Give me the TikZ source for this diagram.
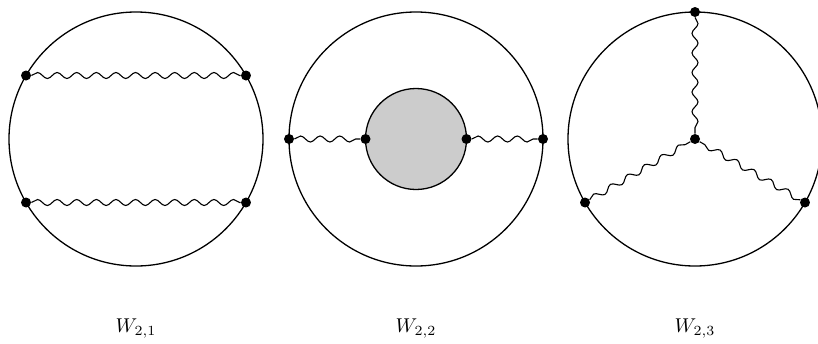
\documentclass[tikz,border=0pt]{standalone}
\usetikzlibrary{decorations.pathmorphing}

\begin{document}
\begin{tikzpicture}[
    x=0.5pt, y=-0.5pt,
    loop_circle/.style={circle, draw=black, line width=0.65pt, inner sep=0pt, outer sep=0pt, minimum size=127pt},
    blob/.style={circle, draw=black, fill=black!20, line width=0.65pt, inner sep=0pt, outer sep=0pt, minimum size=50.5pt},
    vertex/.style={circle, fill=black, inner sep=0pt, minimum size=5pt},
    photon/.style={line width=0.55pt, decorate, decoration={snake, segment length=9.8pt, amplitude=1.5pt}},
    label_node/.style={anchor=base}
]

  \useasboundingbox (0,0) rectangle (818,343);

  % --- W_{2,1}: two ladder photons ---
  \node[loop_circle] (c1) at (136,139) {};
  \node[vertex] (a1) at (c1.150) {};
  \node[vertex] (a2) at (c1.30) {};
  \node[vertex] (a3) at (c1.210) {};
  \node[vertex] (a4) at (c1.330) {};
  \draw[photon] (a1) -- (a2);
  \draw[photon] (a3) -- (a4);
  \node[label_node] (l1) at (136,332) {$W_{2,1}$};

  % --- W_{2,2}: self-energy insertion ---
  \node[loop_circle] (c2) at (416,139) {};
  \node[blob] (s2) at (416,139) {};
  \node[vertex] (b1) at (c2.180) {};
  \node[vertex] (b2) at (s2.180) {};
  \node[vertex] (b3) at (s2.0) {};
  \node[vertex] (b4) at (c2.0) {};
  \draw[photon] (b1) -- (b2);
  \draw[photon] (b3) -- (b4);
  \node[label_node] (l2) at (416,332) {$W_{2,2}$};

  % --- W_{2,3}: three-photon vertex ---
  \node[loop_circle] (c3) at (695,139) {};
  \node[vertex] (m3) at (695,139) {};
  \node[vertex] (d1) at (c3.90) {};
  \node[vertex] (d2) at (c3.210) {};
  \node[vertex] (d3) at (c3.330) {};
  \foreach \v in {d1,d2,d3} {
    \draw[photon] (\v) -- (m3);
  }
  \node[label_node] (l3) at (695,332) {$W_{2,3}$};

\end{tikzpicture}
\end{document}
